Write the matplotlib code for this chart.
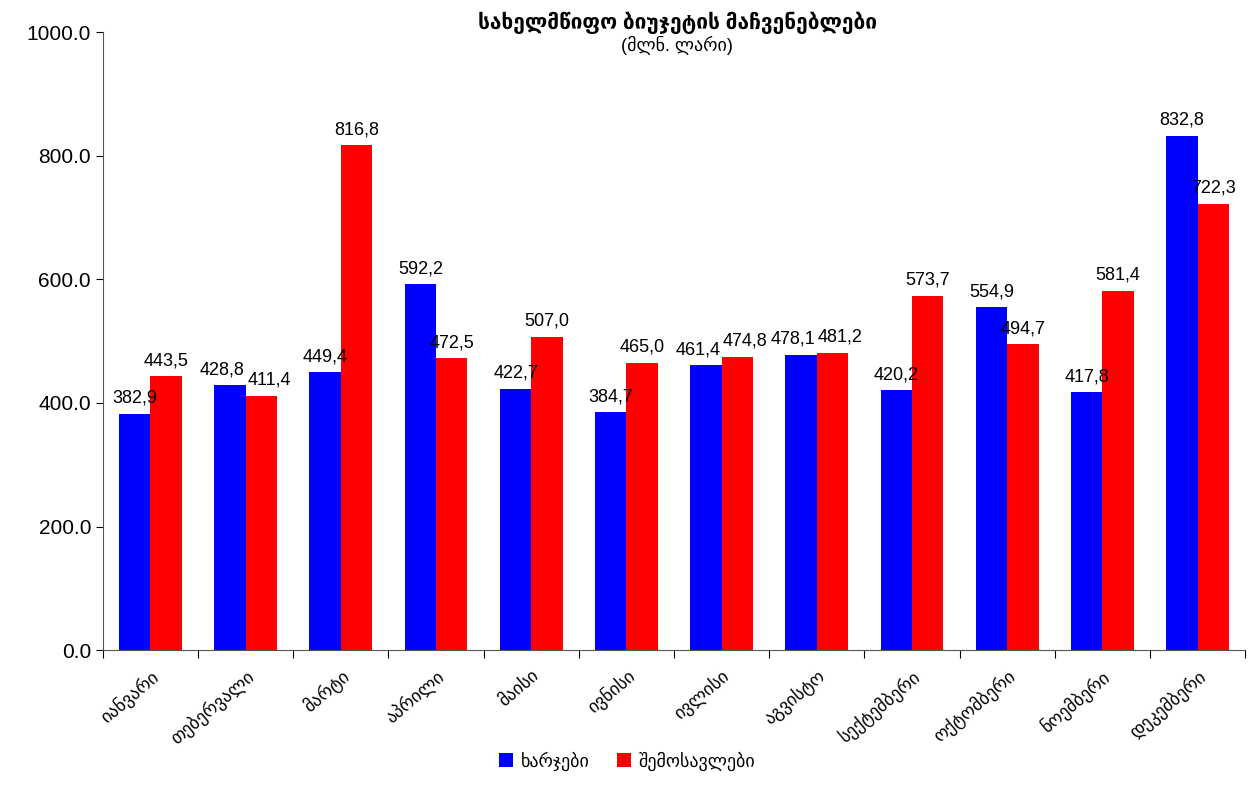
import numpy as np
import matplotlib
matplotlib.use("Agg")
import matplotlib.pyplot as plt
from matplotlib.ticker import FuncFormatter

months = ["იანვარი", "თებერვალი", "მარტი", "აპრილი", "მაისი", "ივნისი",
          "ივლისი", "აგვისტო", "სექტემბერი", "ოქტომბერი", "ნოემბერი", "დეკემბერი"]
spending = [382.9, 428.8, 449.4, 592.2, 422.7, 384.7, 461.4, 478.1, 420.2, 554.9, 417.8, 832.8]
revenue = [443.5, 411.4, 816.8, 472.5, 507.0, 465.0, 474.8, 481.2, 573.7, 494.7, 581.4, 722.3]
title = "სახელმწიფო ბიუჯეტის მაჩვენებლები"
subtitle = "(მლნ. ლარი)"
legend_labels = ["ხარჯები", "შემოსავლები"]

plt.rcParams["font.family"] = ["Liberation Sans", "DejaVu Sans"]
fig = plt.figure(figsize=(12.54, 7.87), dpi=100)
ax = fig.add_axes([0.082, 0.174, 0.911, 0.785])

x = np.arange(len(months))
w = 0.33
b1 = ax.bar(x - w / 2, spending, w, color="#0000ff", label=legend_labels[0])
b2 = ax.bar(x + w / 2, revenue, w, color="#ff0000", label=legend_labels[1])

# pairs of near-equal bars: push their labels apart sideways
for rb, rr in zip(b1, b2):
    close = abs(rb.get_height() - rr.get_height()) < 30
    for r, dx in ((rb, -5.5 if close else 0), (rr, 5.5 if close else 0)):
        ax.annotate(f"{r.get_height():.1f}".replace(".", ","),
                    (r.get_x() + r.get_width() / 2, r.get_height()),
                    xytext=(dx, 5), textcoords="offset points",
                    ha="center", va="bottom", fontsize=13)

ax.set_xlim(-0.5, len(months) - 0.5)
ax.set_ylim(0, 1000)
ax.set_yticks(np.arange(0, 1001, 200))
ax.yaxis.set_major_formatter(FuncFormatter(lambda v, p: f"{v:.1f}"))
ax.tick_params(axis="y", labelsize=15, direction="out", length=5)
ax.set_xticks(np.arange(-0.5, len(months), 1))
ax.set_xticklabels([])
ax.set_xticks(x, minor=True)
ax.set_xticklabels(months, minor=True, rotation=40, ha="right",
                   rotation_mode="anchor", fontsize=13)
ax.tick_params(axis="x", which="minor", length=0, pad=12)
ax.tick_params(axis="x", which="major", length=6)
for s in ("top", "right"):
    ax.spines[s].set_visible(False)
for s in ("left", "bottom"):
    ax.spines[s].set_color("#555555")

fig.text(0.54, 0.957, title, ha="center", va="bottom", fontsize=15, fontweight="bold")
fig.text(0.54, 0.955, subtitle, ha="center", va="top", fontsize=13)

fig.legend(loc="lower center", bbox_to_anchor=(0.5, 0.0), ncol=2, frameon=False,
           fontsize=13, handlelength=0.8, handleheight=0.8, columnspacing=1.5,
           handletextpad=0.4)

fig.savefig("out.png", dpi=100)
